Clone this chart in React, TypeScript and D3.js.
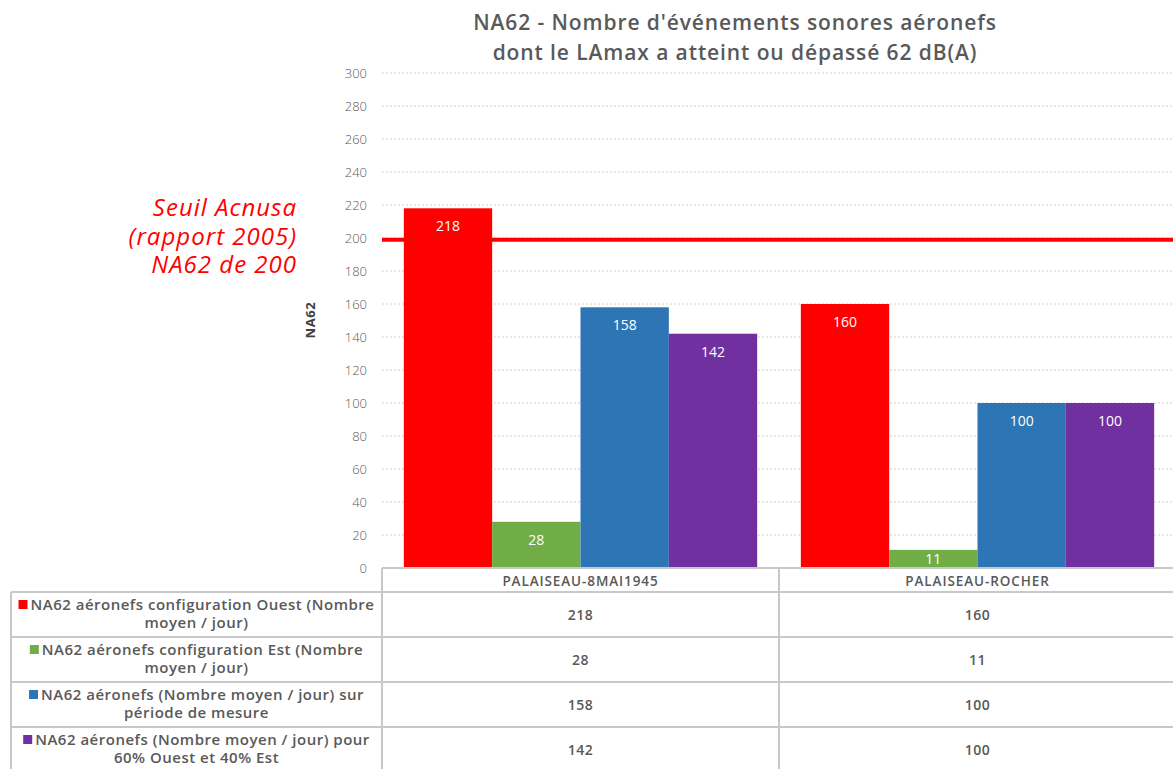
import React, { useEffect, useRef } from 'react';
import * as d3 from 'd3';

const categories = ['PALAISEAU-8MAI1945', 'PALAISEAU-ROCHER'];
const seriesNames = [
    ['NA62 aéronefs configuration Ouest (Nombre', 'moyen / jour)'],
    ['NA62 aéronefs configuration Est (Nombre', 'moyen / jour)'],
    ['NA62 aéronefs (Nombre moyen / jour) sur', 'période de mesure'],
    ['NA62 aéronefs (Nombre moyen / jour) pour', '60% Ouest et 40% Est'],
];
const seriesColors = ['#FF0000', '#70AD47', '#2E75B6', '#7030A0'];
const ouestValues = [218, 160];
const estValues = [28, 11];
const periodeValues = [158, 100];
const mixValues = [142, 100];
const yTicks = [0, 20, 40, 60, 80, 100, 120, 140, 160, 180, 200, 220, 240, 260, 280, 300];
const threshold = 199;
const thresholdLabel = ['Seuil Acnusa', '(rapport 2005)', 'NA62 de 200'];
const titleLines = ["NA62 - Nombre d'événements sonores aéronefs", 'dont le LAmax a atteint ou dépassé 62 dB(A)'];

const App: React.FC = () => {
    const ref = useRef<SVGSVGElement>(null);

    useEffect(() => {
        if (!ref.current) return;
        const svg = d3.select(ref.current);
        svg.selectAll('*').remove();

        const width = 1173;
        const height = 769;
        const font = '"Open Sans", "DejaVu Sans", sans-serif';
        const grey = '#595959';
        const plot = { left: 382, right: 1176, top: 73, bottom: 568 };

        const allSeries = [ouestValues, estValues, periodeValues, mixValues];

        const x0 = d3.scaleBand<string>()
            .domain(categories)
            .range([plot.left, plot.right])
            .paddingInner(0.11)
            .paddingOuter(0.055);
        const x1 = d3.scaleBand<number>()
            .domain(d3.range(allSeries.length))
            .range([0, x0.bandwidth()]);
        const y = d3.scaleLinear().domain([0, 300]).range([plot.bottom, plot.top]);

        // Title
        svg.append('g').selectAll('text')
            .data(titleLines)
            .enter()
            .append('text')
            .attr('x', 735)
            .attr('y', (_, i) => 30 + i * 30)
            .attr('text-anchor', 'middle')
            .attr('font-family', font)
            .attr('font-size', 21)
            .attr('font-weight', 600)
            .attr('letter-spacing', 0.9)
            .attr('fill', grey)
            .text(d => d);

        // Gridlines
        svg.append('g').selectAll('line')
            .data(yTicks.filter(t => t > 0))
            .enter()
            .append('line')
            .attr('x1', plot.left)
            .attr('x2', width)
            .attr('y1', d => y(d))
            .attr('y2', d => y(d))
            .attr('stroke', '#D0D0D0')
            .attr('stroke-width', 1)
            .attr('stroke-dasharray', '2,2');

        // Y axis tick labels
        svg.append('g').selectAll('text')
            .data(yTicks)
            .enter()
            .append('text')
            .attr('x', 367)
            .attr('y', d => y(d) + 5)
            .attr('text-anchor', 'end')
            .attr('font-family', font)
            .attr('font-size', 13)
            .attr('font-weight', 300)
            .attr('fill', grey)
            .text(d => d);

        // Y axis title
        svg.append('text')
            .attr('transform', 'translate(315, 320) rotate(-90)')
            .attr('text-anchor', 'middle')
            .attr('font-family', font)
            .attr('font-size', 13)
            .attr('font-weight', 'bold')
            .attr('letter-spacing', 0.6)
            .attr('fill', '#404040')
            .text('NA62');

        // Threshold line
        svg.append('line')
            .attr('x1', plot.left)
            .attr('x2', width)
            .attr('y1', y(threshold))
            .attr('y2', y(threshold))
            .attr('stroke', '#FF0000')
            .attr('stroke-width', 4);

        // Bars
        const groups = svg.append('g').selectAll('g')
            .data(categories)
            .enter()
            .append('g')
            .attr('transform', d => `translate(${x0(d)},0)`);

        groups.selectAll('rect')
            .data((_, ci) => allSeries.map((s, si) => ({ si, v: s[ci] })))
            .enter()
            .append('rect')
            .attr('x', d => x1(d.si) as number)
            .attr('y', d => y(d.v))
            .attr('width', x1.bandwidth())
            .attr('height', d => plot.bottom - y(d.v))
            .attr('fill', d => seriesColors[d.si]);

        groups.selectAll('text')
            .data((_, ci) => allSeries.map((s, si) => ({ si, v: s[ci] })))
            .enter()
            .append('text')
            .attr('x', d => (x1(d.si) as number) + x1.bandwidth() / 2)
            .attr('y', d => y(d.v) + Math.min(23, (plot.bottom - y(d.v)) / 2 + 5))
            .attr('text-anchor', 'middle')
            .attr('font-family', font)
            .attr('font-size', 14)
            .attr('fill', '#FFFFFF')
            .text(d => d.v);

        // Threshold annotation
        svg.append('g').selectAll('text')
            .data(thresholdLabel)
            .enter()
            .append('text')
            .attr('x', 297)
            .attr('y', (_, i) => 216 + i * 28.5)
            .attr('text-anchor', 'end')
            .attr('font-family', font)
            .attr('font-size', 24)
            .attr('font-style', 'italic')
            .attr('letter-spacing', 1)
            .attr('fill', '#FF0000')
            .text(d => d);

        // Data table (header row sits right under the zero axis line)
        const border = '#C8C8C8';
        const headerTop = plot.bottom;
        const rowTop = 592;
        const rowH = 45;
        const legendLeft = 11;
        const table = svg.append('g');

        const hLine = (x1v: number, x2v: number, yv: number) =>
            table.append('line')
                .attr('x1', x1v).attr('x2', x2v).attr('y1', yv).attr('y2', yv)
                .attr('stroke', border).attr('stroke-width', 2);
        const vLine = (xv: number, y1v: number, y2v: number) =>
            table.append('line')
                .attr('x1', xv).attr('x2', xv).attr('y1', y1v).attr('y2', y2v)
                .attr('stroke', border).attr('stroke-width', 2);

        hLine(plot.left, width, headerTop);
        for (let i = 0; i <= allSeries.length; i++) {
            hLine(legendLeft, width, rowTop + i * rowH);
        }
        vLine(legendLeft, rowTop, height);
        vLine(plot.left, headerTop, height);
        categories.forEach(c => {
            const right = (x0(c) as number) + x0.bandwidth() + x0.step() * 0.055;
            vLine(Math.min(right, width + 5), headerTop, height);
        });

        // Header labels
        table.selectAll('.hdr')
            .data(categories)
            .enter()
            .append('text')
            .attr('class', 'hdr')
            .attr('x', d => (x0(d) as number) + x0.bandwidth() / 2)
            .attr('y', 586)
            .attr('text-anchor', 'middle')
            .attr('font-family', font)
            .attr('font-size', 13.5)
            .attr('font-weight', 600)
            .attr('letter-spacing', 0.9)
            .attr('fill', grey)
            .text(d => d);

        // Legend column and values
        const sq = 9;
        seriesNames.forEach((lines, si) => {
            const top = rowTop + si * rowH;
            const cx = (legendLeft + plot.left) / 2;
            lines.forEach((line, li) => {
                const t = table.append('text')
                    .attr('x', cx + (li === 0 ? (sq + 3) / 2 : 0))
                    .attr('y', top + 18 + li * 18)
                    .attr('text-anchor', 'middle')
                    .attr('font-family', font)
                    .attr('font-size', 15)
                    .attr('font-weight', 600)
                    .attr('letter-spacing', 0.5)
                    .attr('fill', grey)
                    .text(line);
                if (li === 0) {
                    const w = (t.node() as SVGTextElement).getComputedTextLength();
                    table.append('rect')
                        .attr('x', cx + (sq + 3) / 2 - w / 2 - sq - 3)
                        .attr('y', top + 8)
                        .attr('width', sq)
                        .attr('height', sq)
                        .attr('fill', seriesColors[si]);
                }
            });

            categories.forEach((c, ci) => {
                table.append('text')
                    .attr('x', (x0(c) as number) + x0.bandwidth() / 2)
                    .attr('y', top + 28)
                    .attr('text-anchor', 'middle')
                    .attr('font-family', font)
                    .attr('font-size', 14)
                    .attr('font-weight', 600)
                    .attr('letter-spacing', 0.5)
                    .attr('fill', grey)
                    .text(allSeries[si][ci]);
            });
        });
    }, []);

    return (
        <div style={{ position: 'absolute', left: 0, top: 0, background: '#fff' }}>
            <svg ref={ref} width={1173} height={769} style={{ display: 'block' }} />
        </div>
    );
};

export default App;
